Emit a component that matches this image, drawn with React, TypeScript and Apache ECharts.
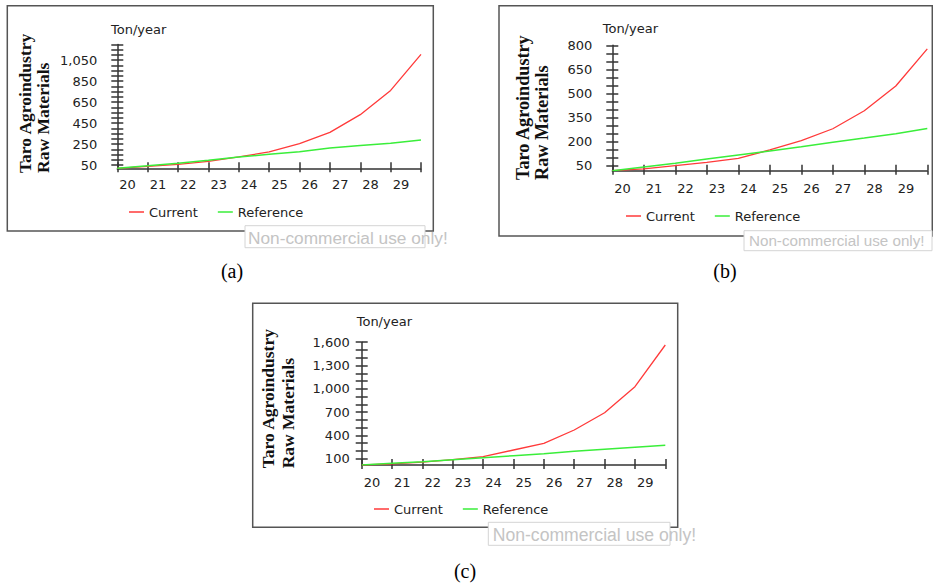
import { useEffect, useRef } from 'react';
import * as echarts from 'echarts';

// ---- data ----
const years = ['20', '21', '22', '23', '24', '25', '26', '27', '28', '29', '30'];
const xLabels = ['20', '21', '22', '23', '24', '25', '26', '27', '28', '29'];

const currentA = [20, 38, 58, 86, 128, 176, 255, 362, 531, 762, 1105];
const referenceA = [20, 45, 67, 96, 128, 153, 178, 213, 238, 258, 290];
const currentB = [20, 31, 51, 72, 97, 149, 207, 281, 393, 547, 778];
const referenceB = [20, 43, 66, 93, 118, 143, 169, 197, 223, 250, 282];
const currentC = [20, 35, 58, 88, 127, 213, 299, 470, 693, 1028, 1564];
const referenceC = [20, 42, 62, 88, 114, 140, 165, 196, 222, 248, 274];

const yTicksA = [50, 100, 150, 200, 250, 300, 350, 400, 450, 500, 550, 600, 650, 700, 750, 800, 850, 900, 950, 1000, 1050, 1100, 1150, 1200];
const yLabelsA = [50, 250, 450, 650, 850, 1050];
const yTicksB = [50, 100, 150, 200, 250, 300, 350, 400, 450, 500, 550, 600, 650, 700, 750, 800];
const yLabelsB = [50, 200, 350, 500, 650, 800];
const yTicksC = [100, 200, 300, 400, 500, 600, 700, 800, 900, 1000, 1100, 1200, 1300, 1400, 1500, 1600];
const yLabelsC = [100, 400, 700, 1000, 1300, 1600];

const seriesNames = ['Current', 'Reference'];
const captions = ['(a)', '(b)', '(c)'];
const titleLines = ['Taro Agroindustry', 'Raw Materials'];
const unitLabel = 'Ton/year';
const watermark = 'Non-commercial use only!';

const FONT = 'DejaVu Sans';
const AXIS = '#333';
const RED = '#ff3a3a';
const GREEN = '#3aee3a';

type Panel = {
  grid: { left: number; top: number; width: number; height: number };
  ymin: number; ymax: number;
  ticks: number[]; labels: number[];
  cur: number[]; ref: number[];
  yMargin: number; xMargin: number;
  legend: { left: number; top: number };
};

const panels: Panel[] = [
  {
    grid: { left: 117.3, top: 44.4, width: 303.7, height: 123.9 },
    ymin: 20, ymax: 1200, ticks: yTicksA, labels: yLabelsA,
    cur: currentA, ref: referenceA, yMargin: 20, xMargin: 10,
    legend: { left: 129, top: 204 },
  },
  {
    grid: { left: 612.3, top: 45.3, width: 315, height: 125.4 },
    ymin: 20, ymax: 800, ticks: yTicksB, labels: yLabelsB,
    cur: currentB, ref: referenceB, yMargin: 20, xMargin: 11.5,
    legend: { left: 626, top: 208 },
  },
  {
    grid: { left: 361.7, top: 342.2, width: 303.6, height: 122.8 },
    ymin: 20, ymax: 1600, ticks: yTicksC, labels: yLabelsC,
    cur: currentC, ref: referenceC, yMargin: 12, xMargin: 10.5,
    legend: { left: 374, top: 501 },
  },
];

function buildOption() {
  const grid: any[] = [];
  const xAxis: any[] = [];
  const yAxis: any[] = [];
  const series: any[] = [];
  const legend: any[] = [];

  panels.forEach((p, i) => {
    grid.push({ ...p.grid, containLabel: false });
    const tickStyle = { color: AXIS, width: 1.5 };
    // primary x axis (labels + outside ticks)
    xAxis.push({
      type: 'category', gridIndex: i, data: years, boundaryGap: false, position: 'bottom',
      axisLine: { show: true, lineStyle: { color: AXIS, width: 1.5 } },
      axisTick: { show: true, inside: false, length: 4, interval: 0, lineStyle: tickStyle },
      axisLabel: {
        interval: 0, margin: p.xMargin, align: 'left', padding: [0, 0, 0, 2],
        fontSize: 13, fontFamily: FONT, color: '#222',
        formatter: (_v: string, idx: number) => xLabels[idx] ?? '',
      },
      splitLine: { show: false },
    });
    // secondary x axis (inside ticks)
    xAxis.push({
      type: 'category', gridIndex: i, data: years, boundaryGap: false, position: 'bottom',
      axisLine: { show: false },
      axisTick: { show: true, inside: true, length: 6, interval: 0, lineStyle: tickStyle },
      axisLabel: { show: false },
      splitLine: { show: false },
    });
    yAxis.push({
      type: 'value', gridIndex: i, min: p.ymin, max: p.ymax, position: 'left',
      axisLine: { show: true, lineStyle: { color: AXIS, width: 1.5 } },
      axisTick: { show: true, inside: false, length: 6, customValues: p.ticks, lineStyle: tickStyle },
      axisLabel: {
        customValues: p.labels, margin: p.yMargin,
        fontSize: 13, fontFamily: FONT, color: '#222',
        formatter: (v: number) => Number(v).toLocaleString('en-US'),
      },
      splitLine: { show: false },
    });
    yAxis.push({
      type: 'value', gridIndex: i, min: p.ymin, max: p.ymax, position: 'left',
      axisLine: { show: false },
      axisTick: { show: true, inside: true, length: 6, customValues: p.ticks, lineStyle: tickStyle },
      axisLabel: { show: false },
      splitLine: { show: false },
    });
    series.push({
      name: seriesNames[0], type: 'line', xAxisIndex: i * 2, yAxisIndex: i * 2,
      data: p.cur, showSymbol: false, symbol: 'none', color: RED,
      lineStyle: { color: RED, width: 1.3 }, z: 3,
    });
    series.push({
      name: seriesNames[1], type: 'line', xAxisIndex: i * 2, yAxisIndex: i * 2,
      data: p.ref, showSymbol: false, symbol: 'none', color: GREEN,
      lineStyle: { color: GREEN, width: 1.5 }, z: 4,
    });
    legend.push({
      left: p.legend.left, top: p.legend.top, padding: 0, orient: 'horizontal',
      data: seriesNames, icon: 'rect', itemWidth: 15, itemHeight: 1.5, itemGap: 20,
      textStyle: { fontSize: 13, fontFamily: FONT, color: '#222', lineHeight: 16 },
      selectedMode: false,
    });
  });

  const textStyle = (extra: any) => ({ ...extra });

  const graphic: any[] = [
    // panel borders
    { type: 'rect', shape: { x: 7.3, y: 5.7, width: 426, height: 225.3 }, style: { fill: 'none', stroke: '#555', lineWidth: 1.5 }, z: 1 },
    { type: 'rect', shape: { x: 499, y: 5.7, width: 433.3, height: 230.3 }, style: { fill: 'none', stroke: '#555', lineWidth: 1.5 }, z: 1 },
    { type: 'rect', shape: { x: 252.7, y: 303.3, width: 425, height: 224 }, style: { fill: 'none', stroke: '#555', lineWidth: 1.5 }, z: 1 },
  ];

  const titlePos = [
    { x1: 25, x2: 43, y: 173, size: 17.5 },
    { x1: 523.3, x2: 541.7, y: 180, size: 18.2 },
    { x1: 268.3, x2: 288.3, y: 468.3, size: 17.5 },
  ];
  titlePos.forEach((t) => {
    [t.x1, t.x2].forEach((x, k) => {
      graphic.push({
        type: 'text', x, y: t.y, rotation: Math.PI / 2, z: 5,
        style: textStyle({
          text: titleLines[k], fontSize: t.size, fontWeight: 'bold', fontFamily: 'Liberation Serif',
          fill: '#111', align: 'left', verticalAlign: 'middle', textAlign: 'left', textVerticalAlign: 'middle',
        }),
      });
    });
  });

  const unitPos = [
    { x: 111, y: 29 },
    { x: 602.7, y: 28.3 },
    { x: 356.7, y: 321.7 },
  ];
  unitPos.forEach((u) => {
    graphic.push({
      type: 'text', x: u.x, y: u.y, z: 5,
      style: {
        text: unitLabel, fontSize: 13, fontFamily: FONT, fill: '#222',
        align: 'left', verticalAlign: 'middle', textAlign: 'left', textVerticalAlign: 'middle',
      },
    });
  });

  const capPos = [
    { x: 232, y: 271 },
    { x: 725, y: 271 },
    { x: 465, y: 571 },
  ];
  capPos.forEach((c, i) => {
    graphic.push({
      type: 'text', x: c.x, y: c.y, z: 5,
      style: {
        text: captions[i], fontSize: 20, fontFamily: 'Liberation Serif', fill: '#000',
        align: 'center', verticalAlign: 'middle', textAlign: 'center', textVerticalAlign: 'middle',
      },
    });
  });

  const wmPos = [
    { x: 245, y: 225.7, w: 180, h: 22, tx: 248, ty: 237.5, size: 17.3 },
    { x: 744, y: 230.7, w: 188, h: 20, tx: 749, ty: 240, size: 15.2 },
    { x: 488.3, y: 522.3, w: 181.7, h: 23, tx: 492.7, ty: 534.5, size: 17.6 },
  ];
  wmPos.forEach((w) => {
    graphic.push({
      type: 'rect', z: 50, shape: { x: w.x, y: w.y, width: w.w, height: w.h },
      style: { fill: '#fff', stroke: '#d4d4d4', lineWidth: 1 },
    });
    graphic.push({
      type: 'text', x: w.tx, y: w.ty, z: 51,
      style: {
        text: watermark, fontSize: w.size, fontFamily: 'Liberation Sans', fill: '#c4c4c4',
        align: 'left', verticalAlign: 'middle', textAlign: 'left', textVerticalAlign: 'middle',
      },
    });
  });

  return {
    animation: false,
    backgroundColor: '#fff',
    grid, xAxis, yAxis, series, legend,
    graphic: { elements: graphic },
  };
}

export default function App() {
  const ref = useRef<HTMLDivElement>(null);
  useEffect(() => {
    if (!ref.current) return;
    const chart = echarts.init(ref.current, undefined, { renderer: 'svg' });
    chart.setOption(buildOption() as any);
    return () => chart.dispose();
  }, []);
  return (
    <div
      ref={ref}
      style={{ position: 'fixed', left: 0, top: 0, width: 933, height: 586, background: '#fff' }}
    />
  );
}
